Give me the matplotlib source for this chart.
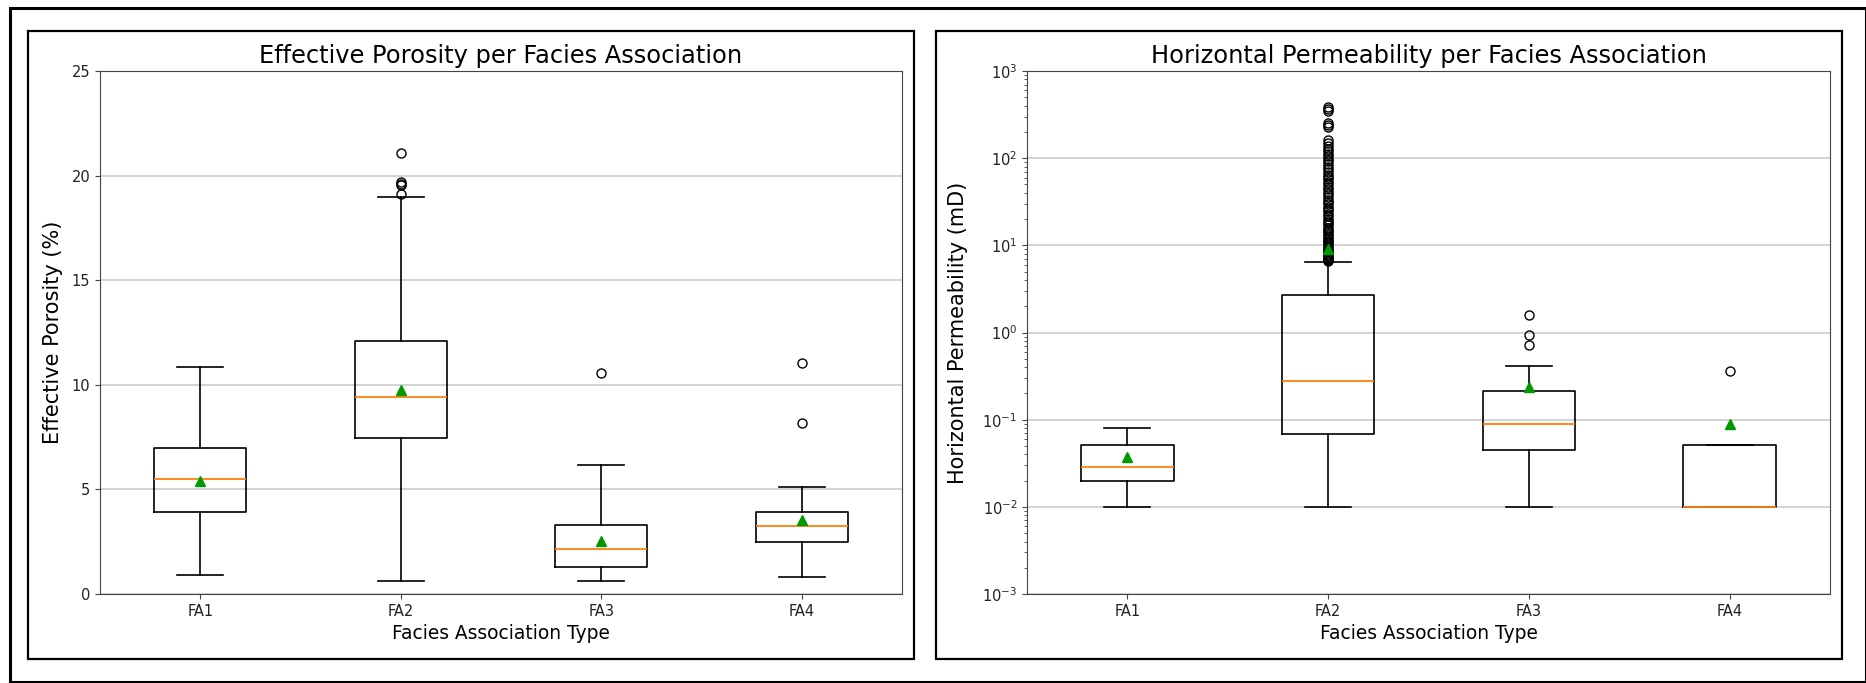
"""
Boxplots de porosidade efetiva e permeabilidade horizontal por associacao de facies.
Gera out.png
"""
import matplotlib
matplotlib.use("Agg")
import matplotlib.pyplot as plt
from matplotlib.patches import Rectangle

FACIES = ["FA1", "FA2", "FA3", "FA4"]

# porosidade efetiva (%) - estatisticas de cada caixa
phi_whislo = [0.9, 0.6, 0.6, 0.83]
phi_q1 = [3.9, 7.44, 1.31, 2.5]
phi_med = [5.52, 9.42, 2.15, 3.27]
phi_q3 = [6.98, 12.08, 3.29, 3.9]
phi_whishi = [10.87, 19.0, 6.19, 5.13]
phi_mean = [5.42, 9.73, 2.52, 3.52]
phi_fliers = [
    [],
    [19.1, 19.55, 19.6, 19.7, 21.06],
    [10.56],
    [8.19, 11.04],
]

# permeabilidade horizontal (mD)
k_whislo = [0.01, 0.01, 0.01, 0.01]
k_q1 = [0.02, 0.069, 0.045, 0.01]
k_med = [0.029, 0.279, 0.089, 0.01]
k_q3 = [0.051, 2.72, 0.214, 0.051]
k_whishi = [0.081, 6.4, 0.41, 0.051]
k_mean = [0.037, 9.2, 0.24, 0.089]
k_fliers = [
    [],
    [6.6, 6.8, 7.0, 7.2, 7.5, 7.7, 8.0, 8.3, 8.6, 9.0, 9.4, 9.8, 10.3, 10.8,
     11.2, 11.8, 12.4, 13.0, 13.7, 14.5, 15.2, 16.0, 17.0, 18.0, 19.1, 20.2,
     21.5, 23.0, 24.5, 26.0, 27.8, 29.5, 31.5, 33.5, 36.0, 38.5, 41.0, 44.0,
     47.0, 50.0, 53.0, 57.0, 61.0, 65.0, 70.0, 75.0, 80.0, 86.0, 92.0, 98.0,
     105.0, 112.0, 120.0, 128.0, 137.0, 148.0, 160.0, 225.0, 240.0, 255.0,
     350.0, 370.0, 385.0],
    [0.72, 0.94, 1.6],
    [0.36],
]

SPINE = "#444444"


def make_stats(lo, q1, med, q3, hi, mean, fliers):
    stats = []
    for i in range(len(FACIES)):
        stats.append(dict(label=FACIES[i], whislo=lo[i], q1=q1[i], med=med[i],
                          q3=q3[i], whishi=hi[i], mean=mean[i], fliers=fliers[i]))
    return stats


def draw_box(ax, stats):
    ax.bxp(stats, showmeans=True, widths=0.46,
           boxprops=dict(color="black", linewidth=1.2),
           whiskerprops=dict(color="black", linewidth=1.2),
           capprops=dict(color="black", linewidth=1.2),
           medianprops=dict(color="#ff7f0e", linewidth=1.3),
           meanprops=dict(marker="^", markerfacecolor="#009a00",
                          markeredgecolor="#009a00", markersize=7),
           flierprops=dict(marker="o", markerfacecolor="none",
                           markeredgecolor="black", markersize=6.5))
    ax.yaxis.grid(True, color="#cccccc", linewidth=1.2)
    ax.set_axisbelow(True)
    for s in ax.spines.values():
        s.set_color(SPINE)
    ax.tick_params(colors=SPINE, labelcolor="#222222", labelsize=10.5)
    ax.tick_params(which="minor", colors=SPINE)
    ax.set_xlabel("Facies Association Type", fontsize=13.4)


fig = plt.figure(figsize=(18.66, 6.83), dpi=100)

ax1 = fig.add_axes([0.0536, 0.1303, 0.4298, 0.7657])
draw_box(ax1, make_stats(phi_whislo, phi_q1, phi_med, phi_q3, phi_whishi, phi_mean, phi_fliers))
ax1.set_ylim(0, 25)
ax1.set_yticks([0, 5, 10, 15, 20, 25])
ax1.set_title("Effective Porosity per Facies Association", fontsize=17.4)
ax1.set_ylabel("Effective Porosity (%)", fontsize=15, labelpad=6)

ax2 = fig.add_axes([0.5504, 0.1303, 0.4303, 0.7657])
draw_box(ax2, make_stats(k_whislo, k_q1, k_med, k_q3, k_whishi, k_mean, k_fliers))
ax2.set_yscale("log")
ax2.set_ylim(1e-3, 1e3)
ax2.set_title("Horizontal Permeability per Facies Association", fontsize=17.4)
ax2.set_ylabel("Horizontal Permeability (mD)", fontsize=15, labelpad=10)

# molduras de cada painel e borda externa
fig.add_artist(Rectangle((0.0150, 0.0351), 0.4748, 0.9195, transform=fig.transFigure,
                         fill=False, edgecolor="black", linewidth=1.6))
fig.add_artist(Rectangle((0.5016, 0.0351), 0.4855, 0.9195, transform=fig.transFigure,
                         fill=False, edgecolor="black", linewidth=1.6))
fig.add_artist(Rectangle((0.0051, 0.0015), 0.995, 0.9868, transform=fig.transFigure,
                         fill=False, edgecolor="black", linewidth=2.2))

fig.savefig("out.png", dpi=100)
